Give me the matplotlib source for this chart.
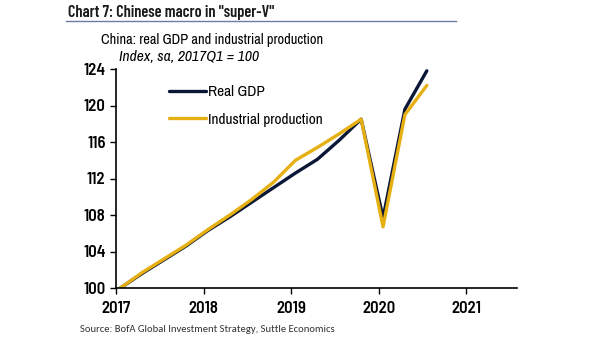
import matplotlib.pyplot as plt
from matplotlib.lines import Line2D

# quarterly data, 2017Q1 .. 2020Q3
quarters = ["2017Q1", "2017Q2", "2017Q3", "2017Q4",
            "2018Q1", "2018Q2", "2018Q3", "2018Q4",
            "2019Q1", "2019Q2", "2019Q3", "2019Q4",
            "2020Q1", "2020Q2", "2020Q3"]
real_gdp = [100.0, 101.6, 103.1, 104.6, 106.3, 107.8, 109.4, 111.0,
            112.6, 114.1, 116.2, 118.5, 107.7, 119.6, 123.8]
ind_prod = [100.0, 101.7, 103.2, 104.7, 106.4, 108.0, 109.7, 111.6,
            114.0, 115.4, 116.9, 118.5, 106.7, 119.0, 122.2]
year_ticks = [2017, 2018, 2019, 2020, 2021]
y_ticks = [100, 104, 108, 112, 116, 120, 124]

# quarter label -> decimal year (plotted slightly into the quarter)
x = [int(q[:4]) + (int(q[-1]) - 1) * 0.25 + 0.05 for q in quarters]

NARROW = ["Archivo Narrow", "DejaVu Sans"]
TICKF = ["Barlow Semi Condensed", "DejaVu Sans"]
TITLEF = ["Barlow Condensed", "DejaVu Sans"]
NAVY = "#0b1736"
GOLD = "#e6b012"
W, H = 605, 341

fig = plt.figure(figsize=(W / 100, H / 100), dpi=100)
ax = fig.add_axes([116 / W, 1 - 288 / H, (517 - 116) / W, (288 - 69) / H])

ax.plot(x, real_gdp, color=NAVY, lw=2.4, label="Real GDP", solid_capstyle="round")
ax.plot(x, ind_prod, color=GOLD, lw=2.4, label="Industrial production", solid_capstyle="round")

ax.set_xlim(2017, 2021.58)
ax.set_ylim(100, 124)
ax.set_xticks(year_ticks)
ax.set_yticks(y_ticks)
ax.tick_params(direction="out", length=4.5, width=1, colors="black", pad=3)
for lab in ax.get_xticklabels() + ax.get_yticklabels():
    lab.set_family(TICKF)
    lab.set_fontsize(12)
    lab.set_fontweight(600)
ax.tick_params(axis="x", pad=5)
for s in ["top", "right"]:
    ax.spines[s].set_visible(False)
for s in ["left", "bottom"]:
    ax.spines[s].set_linewidth(1.2)

leg = ax.legend(loc="upper left", bbox_to_anchor=(0.098, 0.99), frameon=False,
                handlelength=2.4, handletextpad=0.12, labelspacing=0.9,
                prop={"family": NARROW, "size": 11})

# titles
fig.text(68 / W, 1 - 12 / H, 'Chart 7: Chinese macro in "super-V"', family=TITLEF,
         fontsize=11.7, fontweight=600, va="center", ha="left", color="#1a1a1a")
fig.add_artist(Line2D([66 / W, 456 / W], [1 - 21 / H, 1 - 21 / H], color="#6b7ba3", lw=1))
fig.text(101 / W, 1 - 40 / H, "China: real GDP and industrial production", family=NARROW,
         fontsize=10.4, va="center", ha="left", color="black")
fig.text(119 / W, 1 - 57 / H, "Index, sa, 2017Q1 = 100", family=NARROW,
         fontsize=11.2, style="italic", va="center", ha="left", color="black")
fig.text(80 / W, 1 - 330 / H, "Source: BofA Global Investment Strategy, Suttle Economics",
         family=["Carlito", "Open Sans", "DejaVu Sans"], fontsize=7.7, va="center", ha="left",
         color="#333333")

fig.savefig("out.png", dpi=100)
